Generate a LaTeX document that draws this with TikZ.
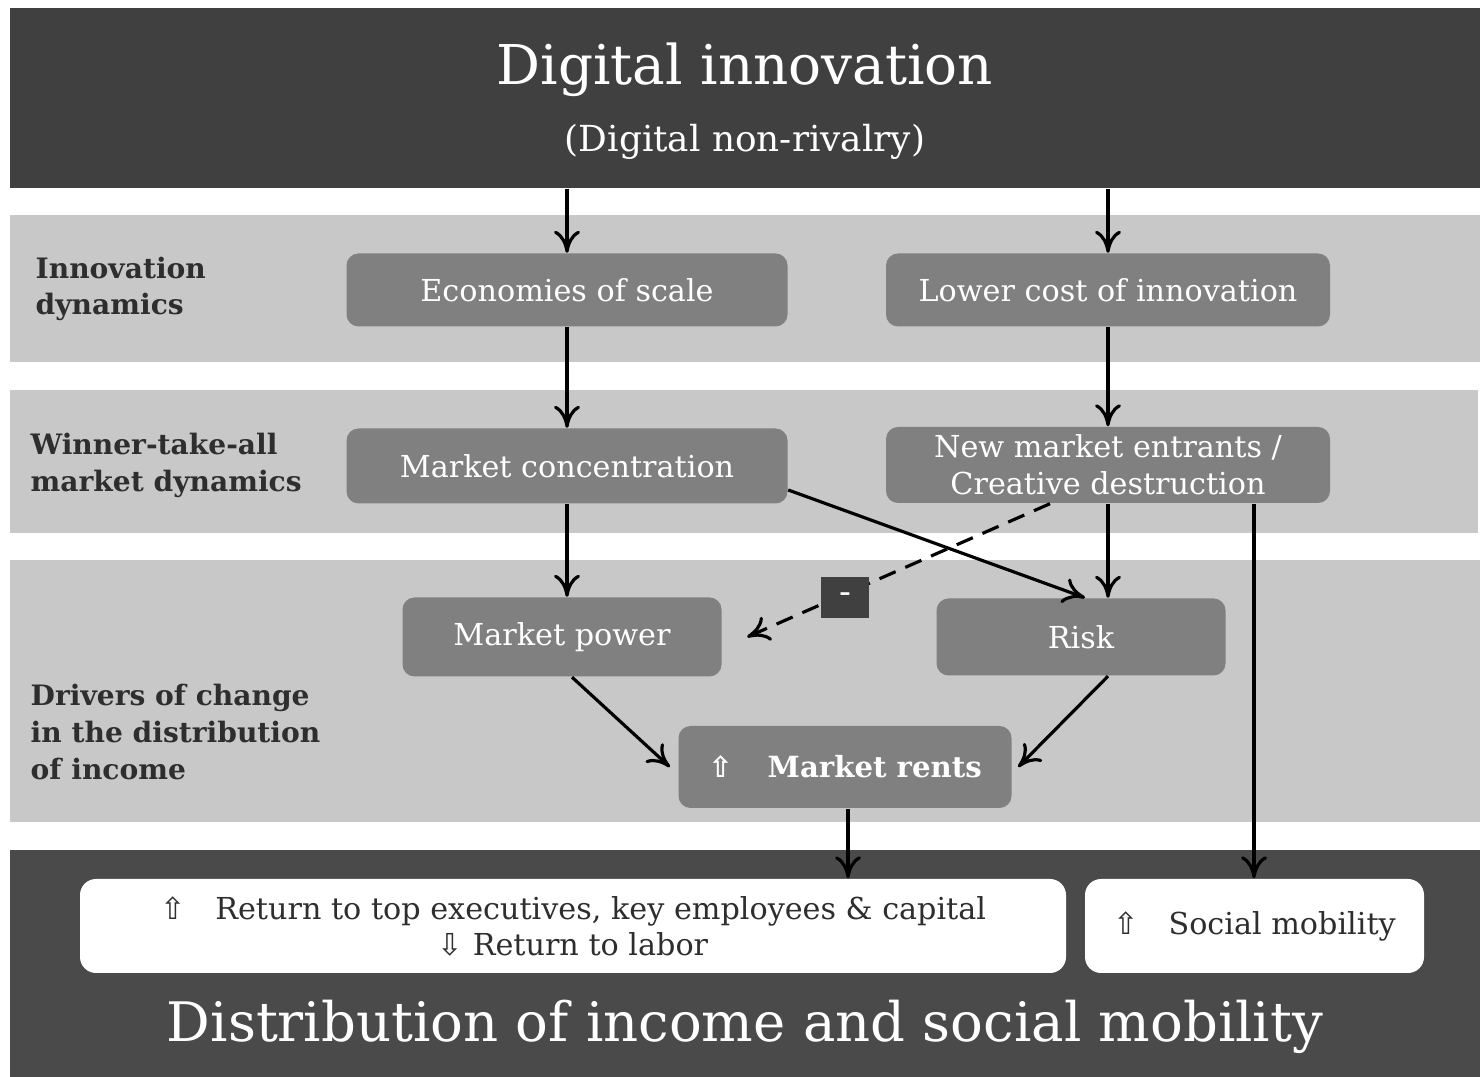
\documentclass[tikz,border=0pt]{standalone}
\usepackage{fontspec}
\setmainfont{DejaVu Serif}
\newfontfamily\arrowfont{DejaVu Sans}
\usetikzlibrary{arrows.meta}

\definecolor{banddark}{HTML}{404040}
\definecolor{bandbottom}{HTML}{4A4A4A}
\definecolor{bandlight}{HTML}{C8C8C8}
\definecolor{boxgrey}{HTML}{808080}
\definecolor{textdark}{HTML}{2E2E2E}

\newcommand{\upsym}{{\arrowfont\char"21E7}}
\newcommand{\downsym}{{\arrowfont\char"21E9}}

\begin{document}
\begin{tikzpicture}[x=0.1mm, y=-0.1mm,
    box/.style={rounded corners=1.2mm, fill=boxgrey, text=white, align=center,
        inner sep=0pt, font=\fontsize{8.6}{10.5}\selectfont},
    whitebox/.style={rounded corners=1.6mm, fill=white, text=textdark, align=center,
        inner sep=0pt, minimum height=9.4mm, font=\fontsize{8.6}{10.3}\selectfont},
    rowlabel/.style={anchor=west, align=left, text=textdark, inner sep=0pt,
        font=\bfseries\fontsize{8}{10.5}\selectfont},
    arrow/.style={-{To[length=2.2mm, width=2.6mm]}, line width=0.9pt},
]
    \useasboundingbox[fill=white] (0,0) rectangle (1480,1077);

    % Bands
    \node[fill=banddark, minimum width=147mm, minimum height=18mm, inner sep=0pt] (top) at (745,98) {};
    \fill[bandlight] (10,215) rectangle (1480,362);
    \fill[bandlight] (10,390) rectangle (1478,533);
    \fill[bandlight] (10,560) rectangle (1480,822);
    \node[fill=bandbottom, minimum width=147mm, minimum height=22.7mm, inner sep=0pt] (bottom) at (745,963.5) {};

    % Headers
    \node[text=white, font=\fontsize{15.6}{18}\selectfont] (title) at (745,70) {Digital innovation};
    \node[text=white, font=\fontsize{10.2}{13}\selectfont] (subtitle) at (745,142) {(Digital non-rivalry)};
    \node[text=white, font=\fontsize{15.5}{18}\selectfont] (footer) at (745,1027) {Distribution of income and social mobility};

    % Row labels
    \node[rowlabel] (lab1) at (35,289) {Innovation\\dynamics};
    \node[rowlabel] (lab2) at (30,465) {Winner-take-all\\market dynamics};
    \node[rowlabel] (lab3) at (30,732) {Drivers of change\\in the distribution\\of income};

    % Boxes
    \node[box, minimum width=44.1mm, minimum height=7.3mm] (econ) at (567,290) {Economies of scale};
    \node[box, minimum width=44.4mm, minimum height=7.3mm] (lowcost) at (1108,290) {Lower cost of innovation};
    \node[box, minimum width=44.1mm, minimum height=7.5mm] (conc) at (567,466) {Market concentration};
    \node[box, minimum width=44.4mm, minimum height=7.6mm] (entrants) at (1108,465) {New market entrants /\\Creative destruction};
    \node[box, minimum width=31.9mm, minimum height=7.9mm] (power) at (562,637) {Market power};
    \node[box, minimum width=28.9mm, minimum height=7.7mm] (risk) at (1081,637) {Risk};
    \node[box, minimum width=33.3mm, minimum height=8.2mm, font=\bfseries\fontsize{8.3}{10.5}\selectfont] (rents) at (845,767)
        {\upsym\hspace{3.5mm}Market rents};
    \node[whitebox, minimum width=98.6mm] (returns) at (573,926)
        {\upsym\hspace{3mm}Return to top executives, key employees \& capital\\\downsym\ Return to labor};
    \node[whitebox, minimum width=33.9mm] (social) at (1254.5,926) {\upsym\hspace{3mm}Social mobility};

    % Arrows
    \draw[arrow] (top.south -| econ.north) -- (econ.north);
    \draw[arrow] (top.south -| lowcost.north) -- (lowcost.north);
    \draw[arrow] (econ.south) -- (conc.north);
    \draw[arrow] (lowcost.south) -- (entrants.north);
    \draw[arrow] (conc.south) -- (conc.south |- power.north);
    \draw[arrow] ([yshift=-2.4mm]conc.east) -- ([xshift=0.4mm]risk.north);
    \draw[arrow] (entrants.south) -- (entrants.south |- risk.north);
    \draw[arrow, dash pattern=on 5pt off 3pt] ([xshift=-5.8mm]entrants.south) -- ([xshift=2.5mm]power.east);
    \node[fill=banddark, text=white, minimum width=4.8mm, minimum height=4.1mm, inner sep=0pt] (minus) at (845,598) {-};
    \draw[arrow] ([xshift=1mm]power.south) -- ([xshift=-0.8mm]rents.west);
    \draw[arrow] ([xshift=2.7mm]risk.south) -- ([xshift=0.6mm]rents.east);
    \draw[arrow] ([xshift=0.3mm]rents.south) -- ([xshift=0.3mm]rents.south |- returns.north);
    \draw[arrow] ([xshift=14.6mm]entrants.south) -- ([xshift=14.6mm]entrants.south |- social.north);
\end{tikzpicture}
\end{document}
